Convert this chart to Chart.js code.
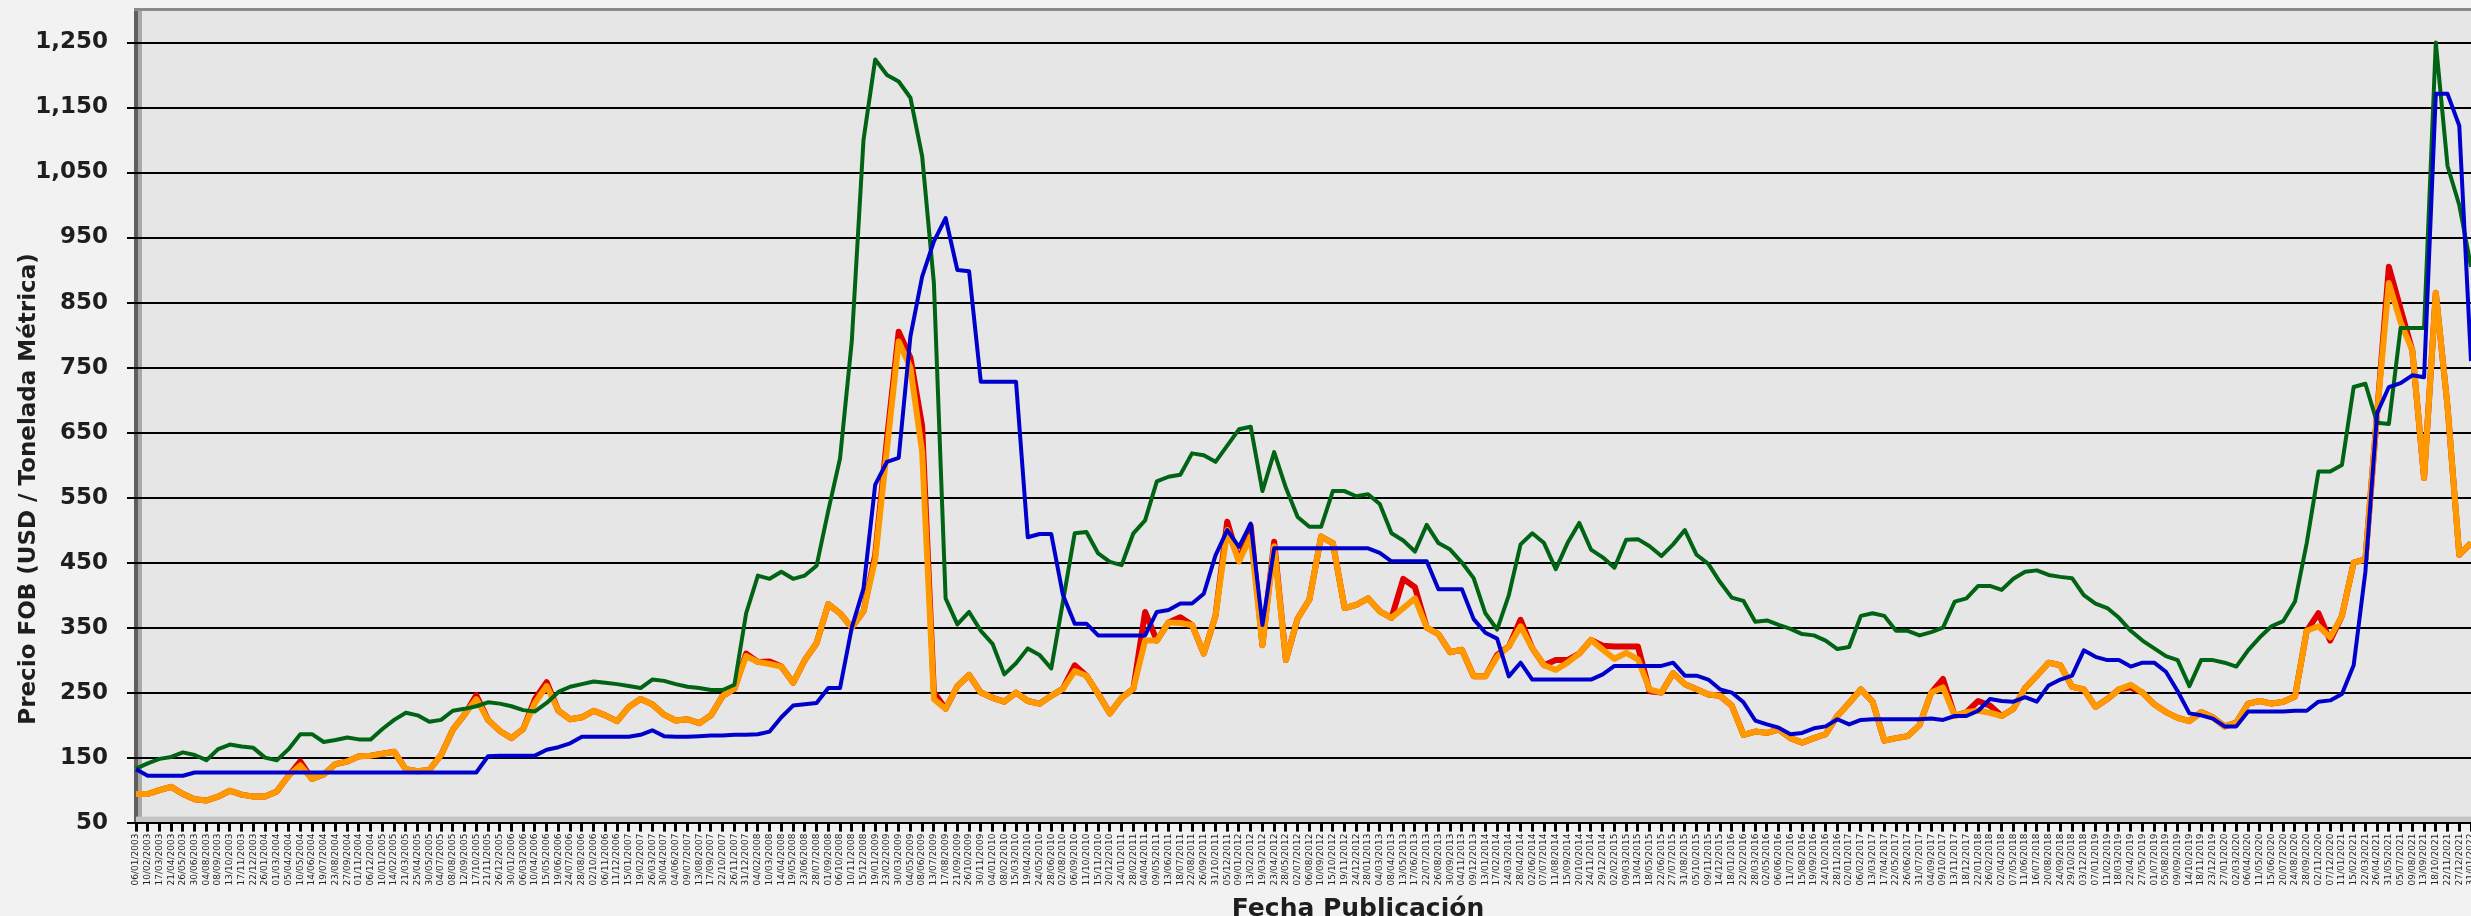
<!DOCTYPE html>
<html>
<head>
<meta charset="utf-8">
<title>Precio FOB</title>
<script src="https://cdn.jsdelivr.net/npm/chart.js@4.4.0/dist/chart.umd.min.js"></script>
<style>
  html, body { margin: 0; padding: 0; background: #f2f2f2; }
  #contenedor { width: 2471px; height: 916px; }
</style>
</head>
<body>
<div id="contenedor"><canvas id="grafico" width="2471" height="916"></canvas></div>
<script>
var tituloY = 'Precio FOB (USD / Tonelada Métrica)';
var tituloX = 'Fecha Publicación';
var ticksY = [50, 150, 250, 350, 450, 550, 650, 750, 850, 950, 1050, 1150, 1250];

var serieVerde = [133,141,148,151,158,154,146,163,170,167,
  165,150,146,163,186,186,174,177,181,178,
  178,194,208,219,215,205,208,222,225,229,
  235,233,229,223,221,234,251,259,263,267,
  265,263,260,257,270,268,263,259,257,254,
  254,262,372,430,425,436,425,430,445,530,
  610,790,1100,1224,1200,1190,1165,1075,880,395,
  355,374,345,325,278,295,318,308,287,390,
  495,497,464,451,446,495,515,575,582,585,
  618,615,605,630,655,659,560,620,565,520,
  505,505,560,560,552,555,540,495,484,467,
  508,480,470,450,426,372,347,400,478,495,
  480,440,480,511,470,458,442,485,486,475,
  460,478,500,462,448,420,396,391,359,361,
  354,348,340,338,330,317,320,368,372,368,
  345,345,338,343,350,390,395,414,414,408,
  425,436,438,431,428,426,400,387,380,365,
  345,330,318,306,300,260,300,300,296,290,
  315,335,352,360,390,480,590,590,600,720,
  725,665,663,811,811,811,1250,1060,1000,905];

var serieAzul = [132,122,122,122,122,127,127,127,127,127,
  127,127,127,127,127,127,127,127,127,127,
  127,127,127,127,127,127,127,127,127,127,
  152,153,153,153,153,162,166,172,182,182,
  182,182,182,185,192,183,182,182,183,184,
  184,185,185,186,190,212,230,232,234,257,
  257,350,410,570,605,611,798,890,944,980,
  900,898,728,728,728,728,489,494,494,400,
  356,356,338,338,338,338,338,374,377,387,
  387,402,461,500,474,510,354,472,472,472,
  472,472,472,472,472,472,465,452,452,452,
  452,409,409,409,363,342,333,275,296,270,
  270,270,270,270,270,278,291,291,291,291,
  291,296,276,276,270,255,250,235,207,201,
  196,186,188,195,198,209,201,208,209,209,
  209,209,209,210,208,214,214,222,240,237,
  236,243,236,261,270,276,315,305,300,300,
  290,296,296,282,252,218,215,210,198,198,
  221,221,221,221,222,222,236,238,248,292,
  436,680,720,726,738,735,1171,1171,1122,760];

var serieRoja = [94,94,100,105,94,86,84,90,99,93,
  90,90,98,122,144,117,124,140,144,152,
  153,156,159,132,129,131,154,193,216,246,
  208,191,180,194,240,266,222,209,212,222,
  215,206,228,240,232,216,207,209,203,215,
  245,256,310,297,298,290,265,300,326,386,
  372,350,375,462,640,805,765,660,250,225,
  260,277,250,242,236,250,237,233,245,256,
  292,276,248,218,242,256,374,330,358,366,
  354,310,368,513,452,507,323,482,300,364,
  393,490,480,380,385,395,375,365,425,412,
  350,340,312,316,275,275,308,321,362,318,
  292,300,300,310,331,322,321,321,321,252,
  250,280,263,255,247,245,230,185,190,188,
  193,180,173,180,186,214,234,255,236,176,
  180,183,200,250,271,214,220,237,230,214,
  225,257,276,296,292,259,255,228,240,255,
  258,250,232,220,211,206,220,212,198,204,
  233,237,233,236,244,345,372,330,368,450,
  455,680,905,840,776,580,865,690,462,480];

var serieNaranja = [94,94,100,105,94,86,84,90,99,93,
  90,90,98,122,138,117,124,140,144,152,
  153,156,159,132,129,131,154,193,216,240,
  208,191,180,194,234,260,222,209,212,222,
  215,206,228,240,232,216,207,209,203,215,
  245,256,306,297,294,290,265,300,326,386,
  372,350,375,455,625,790,750,620,240,225,
  260,277,250,242,236,250,237,233,245,256,
  283,276,248,218,242,256,330,330,358,357,
  354,310,368,500,452,490,323,475,300,364,
  393,490,480,380,385,395,375,365,380,395,
  350,340,312,316,275,275,305,321,352,318,
  292,285,296,310,331,316,302,311,301,255,
  250,280,263,255,247,245,230,185,190,188,
  193,180,173,180,186,214,234,255,236,176,
  180,183,200,250,258,214,220,222,219,214,
  225,257,276,296,292,259,255,228,240,255,
  262,250,232,220,211,206,220,212,198,204,
  233,237,233,236,244,345,352,335,368,450,
  455,680,880,820,776,580,865,690,462,480];

// fechas de publicacion (una cada 35 dias)
var fechas = [];
var inicio = new Date(2003, 0, 6);
for (var i = 0; i < serieVerde.length; i++) {
  var d = new Date(inicio.getTime() + i * 35 * 86400000);
  var dd = ('0' + d.getDate()).slice(-2);
  var mm = ('0' + (d.getMonth() + 1)).slice(-2);
  fechas.push(dd + '/' + mm + '/' + d.getFullYear());
}

var fondoPlugin = {
  id: 'fondo',
  beforeDraw: function(chart) {
    var ctx = chart.ctx, a = chart.chartArea;
    ctx.save();
    ctx.fillStyle = '#f2f2f2';
    ctx.fillRect(0, 0, chart.width, chart.height);
    ctx.fillStyle = '#e6e6e6';
    ctx.fillRect(a.left, a.top, a.right - a.left, a.bottom - a.top);
    // pared 3D
    ctx.fillStyle = '#5e5e5e';
    ctx.fillRect(a.left - 2, a.top, 4, a.bottom - a.top);
    ctx.fillStyle = '#a8a8a8';
    ctx.fillRect(a.left + 2, a.top, 4, a.bottom - a.top);
    ctx.fillStyle = '#8a8a8a';
    ctx.fillRect(a.left - 2, a.top - 2, a.right - a.left + 2, 3);
    ctx.fillStyle = '#c4c4c4';
    ctx.fillRect(a.left, a.bottom - 6, a.right - a.left, 6);
    ctx.restore();
  },
  afterDraw: function(chart) {
    var ctx = chart.ctx;
    ctx.save();
    ctx.fillStyle = '#1e1e1e';
    ctx.translate(29, 489);
    ctx.rotate(-Math.PI / 2);
    ctx.font = 'bold 23px "DejaVu Sans"';
    ctx.textAlign = 'center';
    ctx.textBaseline = 'middle';
    ctx.fillText(tituloY, 0, 0);
    ctx.restore();

    ctx.save();
    ctx.fillStyle = '#1e1e1e';
    ctx.font = 'bold 25px "DejaVu Sans"';
    ctx.textAlign = 'center';
    ctx.textBaseline = 'top';
    ctx.fillText(tituloX, 1358, 897);
    ctx.restore();
  }
};

var ctx = document.getElementById('grafico');
var grafico = new Chart(ctx, {
  type: 'line',
  data: {
    labels: fechas,
    datasets: [
      { label: 'Azul', data: serieAzul, borderColor: '#0000cc', borderWidth: 4, order: 0 },
      { label: 'Verde', data: serieVerde, borderColor: '#006414', borderWidth: 4, order: 1 },
      { label: 'Naranja', data: serieNaranja, borderColor: '#ff9900', borderWidth: 6, order: 2 },
      { label: 'Roja', data: serieRoja, borderColor: '#e00000', borderWidth: 6, order: 3 }
    ]
  },
  options: {
    responsive: false,
    animation: false,
    devicePixelRatio: 1,
    layout: { padding: { top: 10, left: 0, right: 0, bottom: 0 } },
    elements: { point: { radius: 0 }, line: { tension: 0, borderJoinStyle: 'round' } },
    plugins: { legend: { display: false }, tooltip: { enabled: false } },
    scales: {
      x: {
        grid: { drawOnChartArea: false, drawTicks: true, tickLength: 9, tickWidth: 3, tickColor: '#000' },
        border: { display: true, color: '#000', width: 2 },
        ticks: {
          autoSkip: false, maxRotation: 90, minRotation: 90, padding: 2,
          font: { family: 'DejaVu Sans', size: 9 }, color: '#222'
        },
        afterFit: function(scale) {
          scale.height = 93.4;
          scale.paddingLeft = 0;
          scale.paddingRight = 0;
        }
      },
      y: {
        min: 50,
        max: 1300,
        afterBuildTicks: function(scale) {
          scale.ticks = ticksY.map(function(v) { return { value: v }; });
        },
        grid: { color: '#000', lineWidth: 2, tickLength: 9 },
        border: { display: false },
        ticks: {
          padding: 19,
          color: '#1e1e1e',
          font: { family: 'DejaVu Sans', weight: 'bold', size: 23 },
          callback: function(v) { return v.toLocaleString('en-US'); }
        },
        afterFit: function(scale) {
          scale.width = 136;
          scale.paddingTop = 0;
          scale.paddingBottom = 0;
        }
      }
    }
  },
  plugins: [fondoPlugin]
});
</script>
</body>
</html>
